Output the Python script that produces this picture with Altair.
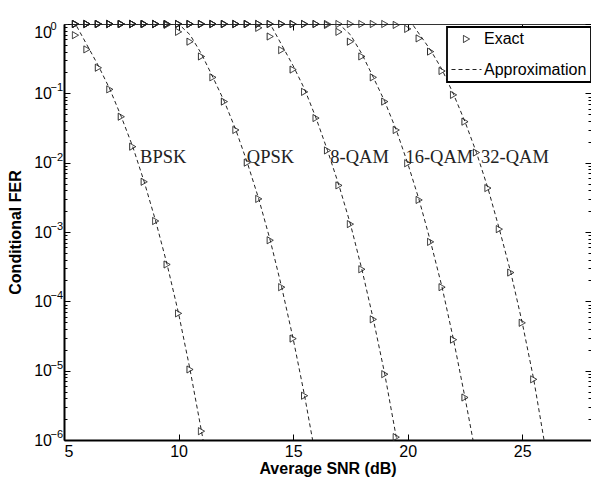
import altair as alt
import pandas as pd

# ---------------- data ----------------
snr = [5.5, 6.0, 6.5, 7.0, 7.5, 8.0, 8.5, 9.0, 9.5, 10.0, 10.5, 11.0, 11.5, 12.0,
       12.5, 13.0, 13.5, 14.0, 14.5, 15.0, 15.5, 16.0, 16.5, 17.0, 17.5, 18.0,
       18.5, 19.0, 19.5, 20.0, 20.5, 21.0, 21.5, 22.0, 22.5, 23.0, 23.5, 24.0,
       24.5, 25.0, 25.5]

exact_bpsk = [0.69, 0.43, 0.234, 0.114, 0.046, 0.017, 0.0053, 0.00144, 3.4e-4,
              6.7e-5, 1.04e-5, 1.34e-6]
exact_qpsk = [1.0, 1.0, 1.0, 1.0, 1.0, 1.0, 1.0, 1.0, 0.97, 0.77, 0.556, 0.34,
              0.17, 0.076, 0.0296, 0.01, 0.003, 7.6e-4, 1.6e-4, 2.9e-5, 4.35e-6]
exact_8qam = [1.0, 1.0, 1.0, 1.0, 1.0, 1.0, 1.0, 1.0, 1.0, 1.0, 1.0, 1.0, 1.0,
              1.0, 1.0, 1.0, 0.88, 0.66, 0.42, 0.22, 0.105, 0.044, 0.015, 0.0047,
              0.0013, 2.9e-4, 5.5e-5, 8.9e-6, 1.1e-6]
exact_16qam = [1.0, 1.0, 1.0, 1.0, 1.0, 1.0, 1.0, 1.0, 1.0, 1.0, 1.0, 1.0, 1.0,
               1.0, 1.0, 1.0, 1.0, 1.0, 1.0, 1.0, 1.0, 1.0, 0.97, 0.77, 0.556,
               0.34, 0.17, 0.076, 0.0296, 0.0098, 0.0029, 7.2e-4, 1.6e-4, 2.8e-5,
               4.1e-6]
exact_32qam = [1.0, 1.0, 1.0, 1.0, 1.0, 1.0, 1.0, 1.0, 1.0, 1.0, 1.0, 1.0, 1.0,
               1.0, 1.0, 1.0, 1.0, 1.0, 1.0, 1.0, 1.0, 1.0, 1.0, 1.0, 1.0, 1.0,
               1.0, 1.0, 0.97, 0.85, 0.62, 0.40, 0.21, 0.095, 0.039, 0.014,
               0.0043, 0.0011, 2.6e-4, 4.9e-5, 7.5e-6]

approx_bpsk_x = [5.0, 5.5, 6.0, 6.5, 7.0, 7.5, 8.0, 8.5, 9.0, 9.5, 10.0, 10.5, 11.0, 11.07]
approx_bpsk_y = [1.0, 1.0, 0.5, 0.25, 0.115, 0.046, 0.017, 0.0053, 0.00144, 3.4e-4,
                 6.7e-5, 1.04e-5, 1.34e-6, 1.0e-6]
approx_qpsk_x = [5.0, 10.0, 10.5, 11.0, 11.5, 12.0, 12.5, 13.0, 13.5, 14.0, 14.5,
                 15.0, 15.5, 15.85]
approx_qpsk_y = [1.0, 1.0, 0.7, 0.37, 0.17, 0.076, 0.0296, 0.01, 0.003, 7.6e-4,
                 1.6e-4, 2.9e-5, 4.35e-6, 1.0e-6]
approx_8qam_x = [5.0, 14.0, 14.5, 15.0, 15.5, 16.0, 16.5, 17.0, 17.5, 18.0, 18.5,
                 19.0, 19.5, 19.57]
approx_8qam_y = [1.0, 1.0, 0.5, 0.25, 0.115, 0.044, 0.015, 0.0047, 0.0013, 2.9e-4,
                 5.5e-5, 8.9e-6, 1.1e-6, 1.0e-6]
approx_16qam_x = [5.0, 17.0, 17.5, 18.0, 18.5, 19.0, 19.5, 20.0, 20.5, 21.0, 21.5,
                  22.0, 22.5, 22.85]
approx_16qam_y = [1.0, 1.0, 0.7, 0.37, 0.17, 0.076, 0.0296, 0.0098, 0.0029, 7.2e-4,
                  1.6e-4, 2.8e-5, 4.1e-6, 1.0e-6]
approx_32qam_x = [5.0, 20.2, 20.5, 21.0, 21.5, 22.0, 22.5, 23.0, 23.5, 24.0, 24.5,
                  25.0, 25.5, 25.95]
approx_32qam_y = [1.0, 1.0, 0.72, 0.42, 0.22, 0.097, 0.039, 0.014, 0.0043, 0.0011,
                  2.6e-4, 4.9e-5, 7.5e-6, 1.0e-6]

curve_names = ["BPSK", "QPSK", "8-QAM", "16-QAM", "32-QAM"]
label_x = [8.32, 12.98, 16.62, 19.9, 23.2]
label_y = [0.0099, 0.0099, 0.0099, 0.0099, 0.0099]

x_ticks = [5, 10, 15, 20, 25]
y_major = [1e-6, 1e-5, 1e-4, 1e-3, 1e-2, 1e-1, 1.0]
y_minor = [m * 10.0 ** e for e in range(-6, 0) for m in range(2, 10)]

kinds = ["Exact", "Approximation"]

# ---------------- tables ----------------
exact_lists = [exact_bpsk, exact_qpsk, exact_8qam, exact_16qam, exact_32qam]
rows = []
for name, vals in zip(curve_names, exact_lists):
    for s, v in zip(snr, vals):
        rows.append({"snr": s, "fer": v, "curve": name, "kind": "Exact"})
exact_df = pd.DataFrame(rows)

approx_lists = [(approx_bpsk_x, approx_bpsk_y), (approx_qpsk_x, approx_qpsk_y),
                (approx_8qam_x, approx_8qam_y), (approx_16qam_x, approx_16qam_y),
                (approx_32qam_x, approx_32qam_y)]
rows = []
for name, (xs_, ys_) in zip(curve_names, approx_lists):
    for s, v in zip(xs_, ys_):
        rows.append({"snr": s, "fer": v, "curve": name, "kind": "Approximation"})
approx_df = pd.DataFrame(rows)

label_df = pd.DataFrame({"snr": label_x, "fer": label_y, "text": curve_names})

# ---------------- scales / axes ----------------
xs = alt.Scale(domain=[5, 28], nice=False, zero=False)
ys = alt.Scale(type="log", domain=[1e-6, 1], nice=False)

FONT = "Liberation Sans"
INK = "#222222"

x_bottom = alt.Axis(orient="bottom", values=x_ticks, format="d", grid=False,
                    tickSize=alt.ExprRef(expr="-6"), tickColor="black", tickWidth=1,
                    labelPadding=9, labelFont=FONT, labelFontSize=16, labelColor="black",
                    domainColor="black", domainWidth=2,
                    title="Average SNR (dB)", titleFont=FONT, titleFontSize=16,
                    titleFontWeight="bold", titleColor="black", titlePadding=1)
x_top = alt.Axis(orient="top", values=x_ticks, grid=False, labels=False,
                 tickSize=alt.ExprRef(expr="-6"), tickColor="black", tickWidth=1,
                 domainColor="#333333", domainWidth=1, title=None)

y_left_main = alt.Axis(orient="left", values=y_major, labelExpr="'10'", grid=False,
                       tickSize=alt.ExprRef(expr="-6"), tickColor="black", tickWidth=1,
                       labelPadding=18.5, labelFont=FONT, labelFontSize=16,
                       labelColor="black", labelBaseline="middle",
                       labelOffset={"condition": {"test": "datum.value >= 0.99", "value": 8},
                                    "value": 0},
                       domainColor="black", domainWidth=2,
                       title="Conditional FER", titleFont=FONT, titleFontSize=16,
                       titleFontWeight="bold", titleColor="black", titlePadding=10)
y_left_exp = alt.Axis(orient="left", values=y_major,
                      labelExpr="datum.value >= 0.99 ? '0' : '\u2212' + format(-round(log(datum.value)/LN10), 'd')",
                      grid=False, ticks=False, domain=False,
                      labelAlign="left", labelPadding=14, labelFont=FONT,
                      labelFontSize=11, labelColor="black", labelBaseline="middle",
                      labelOffset={"condition": {"test": "datum.value >= 0.99", "value": 2.5},
                                   "value": -5.5},
                      title=None)
y_left_minor = alt.Axis(orient="left", values=y_minor, labels=False, grid=False,
                        tickSize=alt.ExprRef(expr="-3"), tickColor="black", tickWidth=1,
                        domain=False, title=None)
y_right_major = alt.Axis(orient="right", values=y_major, labels=False, grid=False,
                         tickSize=alt.ExprRef(expr="-6"), tickColor="black", tickWidth=1,
                         domainColor="black", domainWidth=1, title=None)
y_right_minor = alt.Axis(orient="right", values=y_minor, labels=False, grid=False,
                         tickSize=alt.ExprRef(expr="-3"), tickColor="black", tickWidth=1,
                         domain=False, title=None)

leg = alt.Legend(title=None, orient="none", legendX=383, legendY=3, padding=4,
                 fillColor="white", strokeColor="black",
                 labelFont=FONT, labelFontSize=16, labelColor="black", labelOffset=2,
                 rowPadding=7, symbolStrokeColor=INK, symbolStrokeWidth=1,
                 symbolFillColor="white")

shape_enc = alt.Shape("kind:N", scale=alt.Scale(domain=kinds, range=["triangle-right", "stroke"]),
                      legend=leg)
size_enc = alt.Size("kind:N", scale=alt.Scale(domain=kinds, range=[50, 900]), legend=leg)
dash_enc = alt.StrokeDash("kind:N", scale=alt.Scale(domain=kinds, range=[[1, 0], [4, 3]]),
                          legend=leg)

# ---------------- layers ----------------
lines = alt.Chart(approx_df).mark_line(strokeWidth=1, color=INK, clip=True).encode(
    x=alt.X("snr:Q", scale=xs, axis=x_bottom),
    y=alt.Y("fer:Q", scale=ys, axis=y_left_main),
    detail="curve:N",
    strokeDash=dash_enc,
)

points = alt.Chart(exact_df).mark_point(filled=False, strokeWidth=1, color=INK,
                                        opacity=1).encode(
    x=alt.X("snr:Q", scale=xs, axis=x_top),
    y=alt.Y("fer:Q", scale=ys, axis=y_left_exp),
    shape=shape_enc,
    size=size_enc,
    strokeDash=dash_enc,
    detail="curve:N",
)

labels = alt.Chart(label_df).mark_text(align="left", baseline="alphabetic",
                                       font="Liberation Serif", fontSize=18.5,
                                       color=INK).encode(
    x=alt.X("snr:Q", scale=xs, axis=None),
    y=alt.Y("fer:Q", scale=ys, axis=y_left_minor),
    text="text:N",
)

ghost1 = alt.Chart(label_df).mark_point(opacity=0).encode(
    x=alt.X("snr:Q", scale=xs, axis=None),
    y=alt.Y("fer:Q", scale=ys, axis=y_right_major),
)
ghost2 = alt.Chart(label_df).mark_point(opacity=0).encode(
    x=alt.X("snr:Q", scale=xs, axis=None),
    y=alt.Y("fer:Q", scale=ys, axis=y_right_minor),
)

chart = alt.layer(lines, points, labels, ghost1, ghost2).resolve_scale(
    x="shared", y="shared"
).resolve_axis(
    x="independent", y="independent"
).properties(
    width=527, height=416,
    autosize=alt.AutoSizeParams(type="none"),
    padding={"left": 64, "top": 24, "right": 0, "bottom": 38},
    background="white",
).configure_view(stroke=None).configure_legend(strokeWidth=1.8)

chart.save("out.html", embed_options={"renderer": "svg", "actions": False})
